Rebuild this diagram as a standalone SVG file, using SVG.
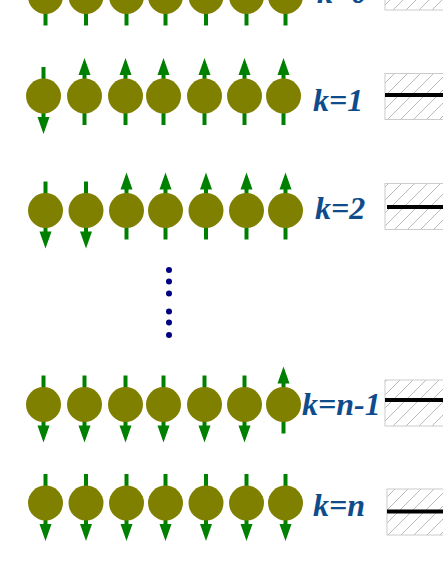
<svg xmlns="http://www.w3.org/2000/svg" width="443" height="573" viewBox="0 0 443 573">
<style>
.stem{stroke:#008000;stroke-width:4}
.head{fill:#008000}
.ball{fill:#808000}
.lbl{font-family:"Liberation Serif","Times New Roman",serif;font-style:italic;font-weight:bold;font-size:32px;fill:#0E4C8C}
.box{fill:url(#hatch);stroke:#cccccc;stroke-width:1}
.bar{stroke:#000;stroke-width:4}
.dot{fill:#000080}
</style>
<defs>
<pattern id="hatch" patternUnits="userSpaceOnUse" width="13" height="13">
<line x1="0" y1="13" x2="13" y2="0" stroke="#a8a8a8" stroke-width="0.8"/>
</pattern>
<g id="up">
<line class="stem" x1="0" y1="-22" x2="0" y2="29"/>
<polygon class="head" points="0,-38 -6,-21 6,-21"/>
<circle class="ball" r="17.5"/>
</g>
<g id="dn">
<line class="stem" x1="0" y1="22" x2="0" y2="-29"/>
<polygon class="head" points="0,38 -6,21 6,21"/>
<circle class="ball" r="17.5"/>
</g>
</defs>
<g id="row-k0">
<use href="#up" x="45.5" y="-3.5"/><use href="#up" x="86" y="-3.5"/><use href="#up" x="126.5" y="-3.5"/><use href="#up" x="165.5" y="-3.5"/><use href="#up" x="206" y="-3.5"/><use href="#up" x="246.5" y="-3.5"/><use href="#up" x="285.5" y="-3.5"/>
<text class="lbl" x="317" y="3">k=0</text>
<rect class="box" x="385" y="-36" width="70" height="46"/>
</g>
<g id="row-k1">
<use href="#dn" x="43.5" y="96"/><use href="#up" x="84.5" y="96"/><use href="#up" x="125.5" y="96"/><use href="#up" x="163.5" y="96"/><use href="#up" x="204.5" y="96"/><use href="#up" x="244.5" y="96"/><use href="#up" x="283.5" y="96"/>
<text class="lbl" x="313" y="111">k=1</text>
<rect class="box" x="385" y="73.5" width="70" height="46"/>
<line class="bar" x1="385" y1="95" x2="443" y2="95"/>
</g>
<g id="row-k2">
<use href="#dn" x="45.5" y="210.5"/><use href="#dn" x="86" y="210.5"/><use href="#up" x="126.5" y="210.5"/><use href="#up" x="165.5" y="210.5"/><use href="#up" x="206" y="210.5"/><use href="#up" x="246.5" y="210.5"/><use href="#up" x="285.5" y="210.5"/>
<text class="lbl" x="315" y="219">k=2</text>
<rect class="box" x="385" y="183.5" width="70" height="46"/>
<line class="bar" x1="387" y1="207" x2="443" y2="207"/>
</g>
<g id="ellipsis">
<circle class="dot" cx="169" cy="270" r="3"/>
<circle class="dot" cx="169" cy="281.5" r="3"/>
<circle class="dot" cx="169" cy="293.5" r="3"/>
<circle class="dot" cx="169" cy="311.5" r="3"/>
<circle class="dot" cx="169" cy="322.5" r="3"/>
<circle class="dot" cx="169" cy="335" r="3"/>
</g>
<g id="row-kn1">
<use href="#dn" x="43.5" y="404.5"/><use href="#dn" x="84.5" y="404.5"/><use href="#dn" x="125.5" y="404.5"/><use href="#dn" x="163.5" y="404.5"/><use href="#dn" x="204.5" y="404.5"/><use href="#dn" x="244.5" y="404.5"/><use href="#up" x="283.5" y="404.5"/>
<rect class="box" x="385" y="380" width="70" height="46"/>
<line class="bar" x1="385" y1="400" x2="443" y2="400"/>
<text class="lbl" x="302" y="415">k=n-1</text>
</g>
<g id="row-kn">
<use href="#dn" x="45.5" y="503"/><use href="#dn" x="86" y="503"/><use href="#dn" x="126.5" y="503"/><use href="#dn" x="165.5" y="503"/><use href="#dn" x="206" y="503"/><use href="#dn" x="246.5" y="503"/><use href="#dn" x="285.5" y="503"/>
<text class="lbl" x="313" y="516">k=n</text>
<rect class="box" x="387" y="489" width="70" height="46"/>
<line class="bar" x1="387" y1="511.5" x2="443" y2="511.5"/>
</g>
</svg>
